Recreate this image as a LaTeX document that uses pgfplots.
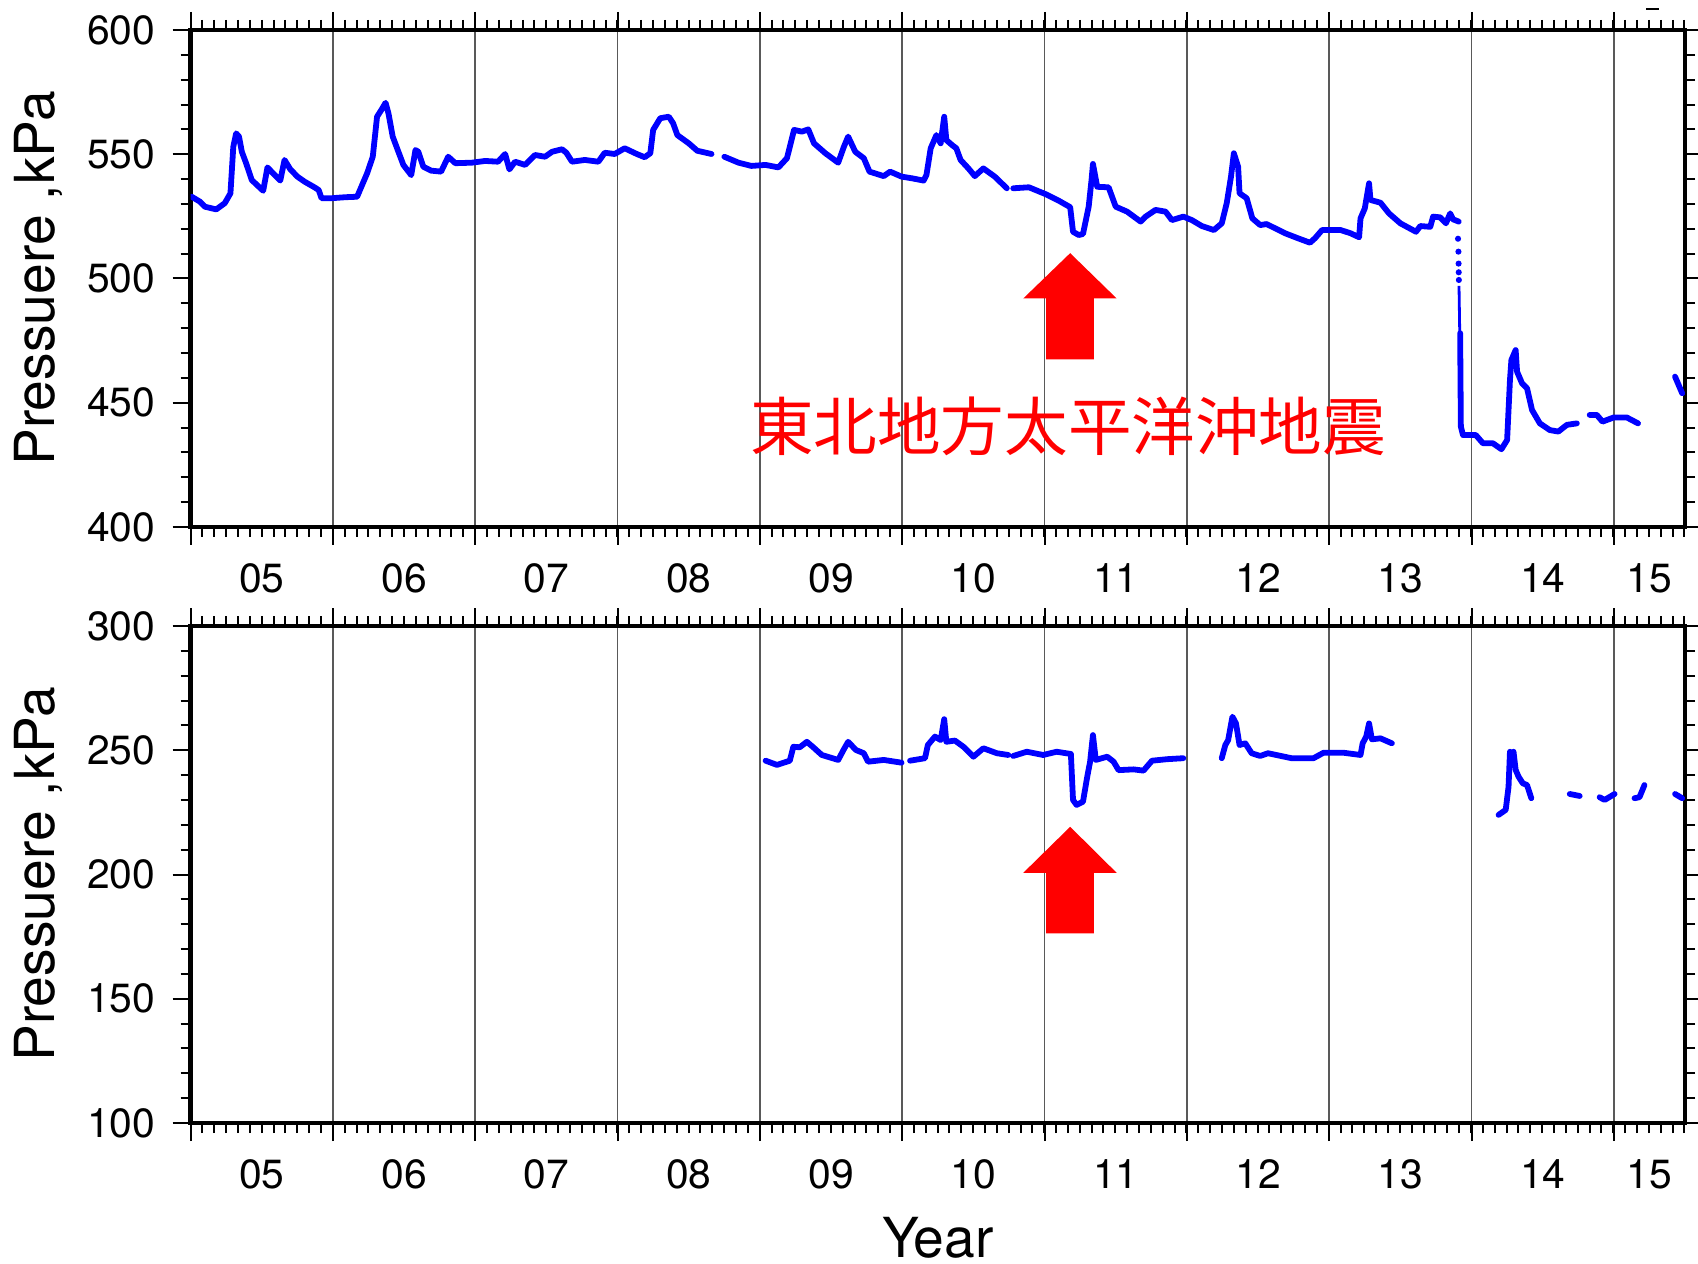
\documentclass[border=0pt]{standalone}
\usepackage{fontspec}
\setmainfont{TeX Gyre Heros}
\newfontfamily\cjk{Noto Sans CJK JP}
\usepackage{pgfplots}
\pgfplotsset{compat=1.18}

\pgfplotsset{
  myaxis/.style={
    scale only axis, width=373.6pt, height=124.25pt,
    xmin=2005, xmax=2015.5,
    unbounded coords=jump,
    xtick={2005,2006,...,2015}, xticklabels={},
    minor xtick={2005.083333,2005.166667,...,2015.46},
    extra x ticks={2005.5,2006.5,2007.5,2008.5,2009.5,2010.5,2011.5,2012.5,2013.5,2014.5,2015.25},
    extra x tick labels={05,06,07,08,09,10,11,12,13,14,15},
    extra x tick style={grid=none, major tick length=0pt, xticklabel style={yshift=-5.6pt}},
    xmajorgrids, grid style={line width=0.45pt, black!65},
    tick align=outside, major tick length=4.5pt, minor tick length=2.5pt,
    every tick/.style={black, line width=0.5pt},
    axis line style={line width=1.2pt},
    xtick pos=both, ytick pos=both,
    xticklabel pos=bottom, yticklabel pos=left,
    minor y tick num=4,
    tick label style={font=\fontsize{10.2}{12}\selectfont},
    yticklabel style={xshift=-0.85pt},
    /pgf/number format/assume math mode=true,
    label style={font=\fontsize{13.8}{16}\selectfont},
    ylabel={Pressuere ,kPa},
    ylabel style={at={(axis description cs:-0.1021,0.5)}, anchor=center},
  },
  dataline/.style={color={rgb,255:red,0;green,0;blue,255}, line width=1.45pt, line join=round, line cap=round, no marks},
}

\begin{document}
\begin{tikzpicture}
\useasboundingbox (0,0) rectangle (424.5pt,315.75pt);

% ---------------- top panel ----------------
\begin{axis}[myaxis, at={(47.65pt,184pt)}, anchor=south west,
  ymin=400, ymax=600, ytick={400,450,...,600}]
\addplot[dataline] table {
2005.008 532.9
2005.066 530.9
2005.10 528.9
2005.18 527.8
2005.24 530.3
2005.28 534.3
2005.30 553.0
2005.32 558.4
2005.34 557.1
2005.36 551.0
2005.39 546.4
2005.43 539.6
2005.48 536.9
2005.51 535.3
2005.54 544.7
2005.58 542.3
2005.63 539.4
2005.66 547.7
2005.70 544.0
2005.75 541.0
2005.80 539.0
2005.87 536.7
2005.90 535.6
2005.92 532.3
2005.99 532.3
2006.085 532.7
2006.17 532.9
2006.19 535.6
2006.24 542.3
2006.28 549.0
2006.31 565.1
2006.34 567.8
2006.37 570.7
2006.39 566.5
2006.42 557.1
2006.46 551.0
2006.495 545.7
2006.55 541.6
2006.58 551.7
2006.60 551.0
2006.635 545.0
2006.69 543.4
2006.76 543.0
2006.81 549.0
2006.86 546.4
2006.975 546.6
2007.07 547.3
2007.16 547.0
2007.21 550.1
2007.24 543.9
2007.28 547.0
2007.35 545.7
2007.42 549.7
2007.49 549.0
2007.54 551.0
2007.61 552.0
2007.64 550.6
2007.68 547.0
2007.77 547.7
2007.865 547.0
2007.91 550.6
2007.98 550.1
2008.05 552.4
2008.135 550.1
2008.19 548.8
2008.23 550.4
2008.25 559.8
2008.30 564.5
2008.36 565.1
2008.39 562.5
2008.42 557.7
2008.50 554.4
2008.56 551.4
2008.66 550.1
2008.70 nan
2008.75 549.0
2008.85 546.6
2008.94 545.3
2009.04 545.7
2009.13 544.7
2009.19 548.4
2009.24 559.8
2009.295 559.1
2009.34 560.0
2009.38 554.4
2009.46 550.4
2009.55 546.6
2009.59 553.0
2009.62 557.1
2009.67 551.0
2009.73 548.4
2009.77 543.0
2009.87 541.2
2009.915 543.0
2009.995 541.0
2010.07 540.3
2010.15 539.4
2010.17 541.6
2010.20 552.4
2010.24 557.7
2010.27 554.4
2010.295 565.1
2010.31 555.7
2010.35 553.7
2010.38 552.4
2010.41 547.7
2010.465 544.3
2010.51 541.2
2010.57 544.3
2010.65 541.0
2010.735 536.3
2010.76 nan
2010.78 536.3
2010.89 536.7
2011.005 534.0
2011.10 531.3
2011.18 528.7
2011.20 518.8
2011.24 517.5
2011.27 517.9
2011.31 528.9
2011.33 539.6
2011.34 546.1
2011.37 536.9
2011.45 536.7
2011.50 528.9
2011.58 526.9
2011.675 522.9
2011.71 524.9
2011.78 527.6
2011.85 526.9
2011.895 523.5
2011.975 524.9
2012.035 523.5
2012.105 521.1
2012.19 519.5
2012.245 522.2
2012.28 530.3
2012.31 541.0
2012.33 550.4
2012.36 545.0
2012.37 534.3
2012.42 532.3
2012.46 524.2
2012.515 521.5
2012.56 521.9
2012.62 520.2
2012.69 518.2
2012.78 516.2
2012.865 514.4
2012.90 516.2
2012.95 519.5
2013.01 519.5
2013.08 519.5
2013.15 518.2
2013.21 516.6
2013.22 524.2
2013.25 528.2
2013.28 538.3
2013.29 531.6
2013.36 530.5
2013.42 526.2
2013.50 522.2
2013.61 518.8
2013.64 521.1
2013.71 520.8
2013.73 524.9
2013.78 524.6
2013.82 522.2
2013.85 526.2
2013.87 523.8
2013.91 522.9
2013.915 nan
2013.92 478.0
2013.925 440.4
2013.94 437.0
2014.03 437.0
2014.08 433.7
2014.15 433.7
2014.21 431.3
2014.25 435.0
2014.27 459.2
2014.28 467.2
2014.31 471.2
2014.32 462.5
2014.355 457.8
2014.39 455.8
2014.425 447.1
2014.48 441.7
2014.55 439.0
2014.61 438.4
2014.67 441.1
2014.74 441.7
2014.78 nan
2014.83 445.1
2014.88 445.1
2014.92 442.4
2015.00 444.1
2015.09 444.1
2015.17 441.7
2015.30 nan
2015.43 460.5
2015.48 453.8
};
% sparse points of the sudden drop
\addplot[only marks, mark=*, mark size=0.55pt, color={rgb,255:red,0;green,0;blue,255}] table {
2013.905 516.0
2013.908 510.8
2013.909 506.0
2013.910 502.5
2013.911 499.4
};
\addplot[color={rgb,255:red,0;green,0;blue,255}, line width=0.7pt, no marks] table {
2013.912 497.0
2013.922 460.0
};
% arrow
\fill[red] (axis cs:2011.18,510.2) -- (axis cs:2011.506,492) -- (axis cs:2011.347,492)
  -- (axis cs:2011.347,467.5) -- (axis cs:2011.011,467.5) -- (axis cs:2011.011,492)
  -- (axis cs:2010.851,492) -- cycle;
\node[text=red, font=\cjk\fontsize{15.9}{18}\selectfont, inner sep=0pt] at (axis cs:2011.166,440.6) {東北地方太平洋沖地震};
\end{axis}

% ---------------- bottom panel ----------------
\begin{axis}[myaxis, at={(47.65pt,35pt)}, anchor=south west,
  ymin=100, ymax=300, ytick={100,150,...,300},
  xlabel={Year}, xlabel style={at={(axis description cs:0.5,-0.2314)}, anchor=center, inner sep=0pt}]
\addplot[dataline] table {
2009.04 245.8
2009.12 244.1
2009.21 245.8
2009.235 251.4
2009.28 251.2
2009.33 253.4
2009.375 251.2
2009.435 248.1
2009.55 246.1
2009.59 250.4
2009.62 253.4
2009.675 250.1
2009.73 248.8
2009.76 245.4
2009.87 246.1
2009.995 245.0
2010.02 nan
2010.055 245.8
2010.16 246.8
2010.18 252.1
2010.23 255.5
2010.27 254.1
2010.295 262.5
2010.31 253.4
2010.37 253.9
2010.43 251.4
2010.50 247.4
2010.57 250.8
2010.665 248.8
2010.745 248.1
2010.76 nan
2010.78 247.7
2010.875 249.4
2010.99 248.1
2011.085 249.4
2011.185 248.5
2011.20 230.0
2011.225 228.0
2011.27 229.3
2011.30 239.4
2011.32 245.4
2011.34 256.1
2011.36 246.1
2011.44 247.4
2011.485 245.4
2011.52 242.0
2011.625 242.3
2011.695 241.8
2011.755 245.8
2011.86 246.4
2011.975 246.8
2012.10 nan
2012.245 246.8
2012.27 252.1
2012.29 254.1
2012.32 263.5
2012.345 260.8
2012.37 252.1
2012.41 252.8
2012.455 248.8
2012.515 247.7
2012.57 248.8
2012.735 246.8
2012.89 246.8
2012.96 249.0
2013.10 249.0
2013.22 248.1
2013.235 252.8
2013.26 255.5
2013.28 260.8
2013.30 254.4
2013.36 254.8
2013.44 252.8
2013.80 nan
2014.19 224.0
2014.24 226.0
2014.26 235.3
2014.27 249.4
2014.28 244.0
2014.295 249.4
2014.31 242.1
2014.33 239.4
2014.36 236.7
2014.39 236.0
2014.42 230.7
2014.55 nan
2014.69 232.4
2014.76 231.6
2014.83 nan
2014.90 231.1
2014.935 230.0
2015.005 232.4
2015.07 nan
2015.145 230.7
2015.18 231.1
2015.215 236.0
2015.30 nan
2015.43 232.4
2015.48 230.7
};
\fill[red] (axis cs:2011.18,219.2) -- (axis cs:2011.506,200.7) -- (axis cs:2011.347,200.7)
  -- (axis cs:2011.347,176.3) -- (axis cs:2011.011,176.3) -- (axis cs:2011.011,200.7)
  -- (axis cs:2010.851,200.7) -- cycle;
\end{axis}

\draw[line width=0.5pt] (411.5pt,313.5pt) -- (414.75pt,313.5pt);
\end{tikzpicture}
\end{document}
